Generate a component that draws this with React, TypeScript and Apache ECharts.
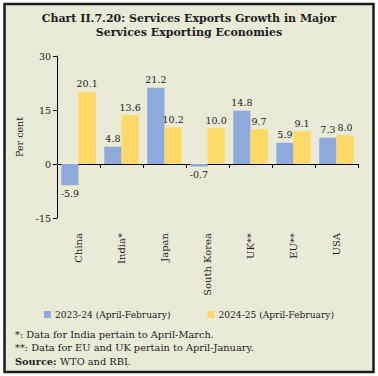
import React, { useEffect, useRef } from "react";
import * as echarts from "echarts";

const categories = ["China", "India*", "Japan", "South Korea", "UK**", "EU**", "USA"];
const series2324 = [-5.9, 4.8, 21.2, -0.7, 14.8, 5.9, 7.3];
const series2425 = [20.1, 13.6, 10.2, 10.0, 9.7, 9.1, 8.0];
const seriesNames = ["2023-24 (April-February)", "2024-25 (April-February)"];
const yTicks = { min: -15, max: 30, interval: 15 };
const titleLines = ["Chart II.7.20: Services Exports Growth in Major", "Services Exporting Economies"];
const notes = [
  "*: Data for India pertain to April-March.",
  "**: Data for EU and UK pertain to April-January.",
];

const SERIF = "'DejaVu Serif', serif";
const TXT = "#222222";

export default function App() {
  const ref = useRef<HTMLDivElement>(null);
  useEffect(() => {
    if (!ref.current) return;
    const chart = echarts.init(ref.current, undefined, { renderer: "svg" });
    const mk = (vals: number[]) =>
      vals.map((v) => ({
        value: v,
        label: { position: v < 0 ? "bottom" : "top" },
      }));
    const note = (text: string, y: number) => ({
      type: "text",
      x: 15,
      y,
      style: { text, font: `9.8px ${SERIF}`, fill: TXT, textVerticalAlign: "middle" },
    });
    chart.setOption({
      animation: false,
      backgroundColor: "#ffffff",
      textStyle: { fontFamily: SERIF },
      graphic: [
        {
          type: "rect",
          z: -10,
          shape: { x: 4.5, y: 4, width: 369, height: 368 },
          style: { fill: "#EAEBD7", stroke: "#1c1c1c", lineWidth: 2.5 },
        },
        {
          type: "text",
          x: 189,
          y: 18,
          style: {
            text: titleLines[0],
            font: `bold 11px ${SERIF}`,
            fill: "#1e1e1e",
            textAlign: "center",
            textVerticalAlign: "middle",
          },
        },
        {
          type: "text",
          x: 189,
          y: 32.5,
          style: {
            text: titleLines[1],
            font: `bold 11px ${SERIF}`,
            fill: "#1e1e1e",
            textAlign: "center",
            textVerticalAlign: "middle",
          },
        },
        note(notes[0], 334),
        note(notes[1], 347.5),
        {
          type: "text",
          x: 15,
          y: 361,
          style: {
            rich: {
              b: { font: `bold 9.8px ${SERIF}`, fill: TXT },
              n: { font: `9.8px ${SERIF}`, fill: TXT },
            },
            text: "{b|Source:} {n|WTO and RBI.}",
            textVerticalAlign: "middle",
          },
        },
      ],
      legend: {
        top: 305,
        left: "center",
        itemWidth: 7,
        itemHeight: 7,
        itemGap: 37,
        icon: "rect",
        textStyle: { fontFamily: SERIF, fontSize: 9.1, color: TXT, padding: [0, 0, 0, -1] },
        data: seriesNames,
      },
      grid: { left: 57, right: 20, top: 56, bottom: 158, containLabel: false },
      xAxis: {
        type: "category",
        data: categories,
        axisLine: { onZero: true, lineStyle: { color: "#000", width: 1 } },
        axisTick: { show: true, alignWithLabel: false, length: 4, lineStyle: { color: "#000" } },
        axisLabel: {
          rotate: 90,
          margin: 15,
          fontFamily: SERIF,
          fontSize: 10,
          color: TXT,
          interval: 0,
        },
      },
      yAxis: {
        type: "value",
        min: yTicks.min,
        max: yTicks.max,
        interval: yTicks.interval,
        name: "Per cent",
        nameLocation: "middle",
        nameGap: 33,
        nameTextStyle: { fontFamily: SERIF, fontSize: 9.5, color: TXT },
        axisLine: { show: true, lineStyle: { color: "#000", width: 1 } },
        axisTick: { show: true, length: 4, lineStyle: { color: "#000" } },
        axisLabel: { fontFamily: SERIF, fontSize: 9.5, color: TXT, margin: 6 },
        splitLine: { show: false },
      },
      series: [
        {
          name: seriesNames[0],
          type: "bar",
          data: mk(series2324),
          itemStyle: { color: "#8EA9DB" },
          barGap: "0%",
          barCategoryGap: "20%",
          label: {
            show: true,
            fontFamily: SERIF,
            fontSize: 9.5,
            color: TXT,
            distance: 3,
            formatter: (p: any) => Number(p.value).toFixed(1),
          },
        },
        {
          name: seriesNames[1],
          type: "bar",
          data: mk(series2425),
          itemStyle: { color: "#FFD966" },
          barGap: "0%",
          barCategoryGap: "20%",
          label: {
            show: true,
            fontFamily: SERIF,
            fontSize: 9.5,
            color: TXT,
            distance: 3,
            formatter: (p: any) => Number(p.value).toFixed(1),
          },
        },
      ],
    });
    return () => chart.dispose();
  }, []);
  return <div ref={ref} style={{ width: 378, height: 376, position: "absolute", left: 0, top: 0 }} />;
}
